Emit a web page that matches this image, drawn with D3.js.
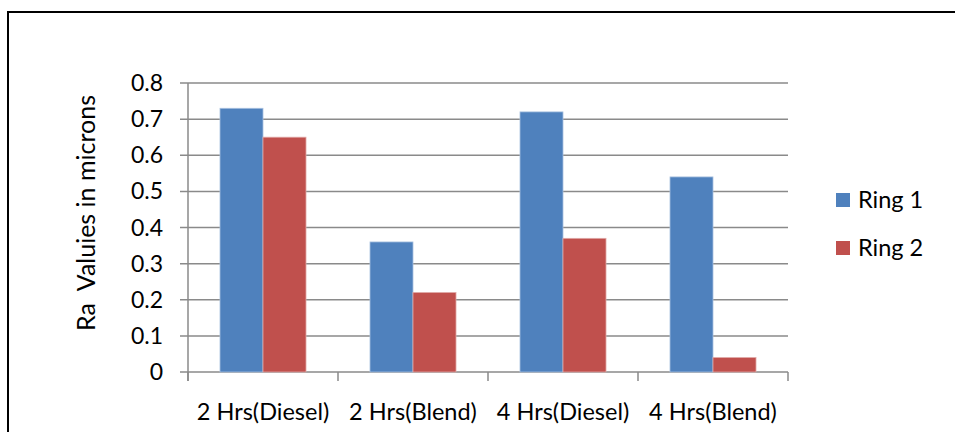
<!DOCTYPE html>
<html>
<head>
<meta charset="utf-8">
<script src="https://cdn.jsdelivr.net/npm/d3@7"></script>
<style>
  body { margin: 0; background: #fff; }
  text { font-family: Lato, "Open Sans", sans-serif; fill: #000; }
</style>
</head>
<body>
<script>
// chart data
var categories = ["2 Hrs(Diesel)", "2 Hrs(Blend)", "4 Hrs(Diesel)", "4 Hrs(Blend)"];
var seriesNames = ["Ring 1", "Ring 2"];
var ring1 = [0.73, 0.36, 0.72, 0.54];
var ring2 = [0.65, 0.22, 0.37, 0.04];
var yTicks = [0, 0.1, 0.2, 0.3, 0.4, 0.5, 0.6, 0.7, 0.8];
var colors = ["#4F81BD", "#C0504D"];

function draw() {
    var w = 955, h = 432;
    var svg = d3.select("body").append("svg")
        .attr("width", w)
        .attr("height", h);

    // outer frame (top and left edges are visible)
    svg.append("path")
        .attr("d", "M8,440 L8,12 L960,12")
        .attr("fill", "none")
        .attr("stroke", "#000")
        .attr("stroke-width", 2);

    var left = 188, right = 788, top = 83, bottom = 372;

    var x = d3.scaleBand().domain(categories).range([left, right]).paddingInner(0).paddingOuter(0);
    var x1 = d3.scaleBand().domain(seriesNames).range([0, x.bandwidth()]).paddingInner(0).paddingOuter(0.744);
    var y = d3.scaleLinear().domain([0, 0.8]).range([bottom, top]);

    // gridlines
    svg.append("g").selectAll("line")
        .data(yTicks)
        .enter().append("line")
        .attr("x1", left - 8).attr("x2", right)
        .attr("y1", function(d) { return y(d); })
        .attr("y2", function(d) { return y(d); })
        .attr("stroke", "#8a8a8a")
        .attr("stroke-width", 1.5);

    // y axis line
    svg.append("line")
        .attr("x1", left).attr("x2", left)
        .attr("y1", top).attr("y2", bottom + 9)
        .attr("stroke", "#8a8a8a").attr("stroke-width", 1.5);

    // category ticks
    var tickXs = categories.map(function(c) { return x(c); }).concat([right]);
    svg.append("g").selectAll("line")
        .data(tickXs)
        .enter().append("line")
        .attr("x1", function(d) { return d; })
        .attr("x2", function(d) { return d; })
        .attr("y1", bottom).attr("y2", bottom + 9)
        .attr("stroke", "#8a8a8a").attr("stroke-width", 1.5);

    // y tick labels
    svg.append("g").selectAll("text")
        .data(yTicks)
        .enter().append("text")
        .attr("x", 163)
        .attr("y", function(d) { return y(d) + 8; })
        .attr("text-anchor", "end")
        .attr("font-size", 23)
        .text(function(d) { return d === 0 ? "0" : d3.format(".1f")(d); });

    // bars
    var series = [ring1, ring2];
    series.forEach(function(vals, si) {
        svg.append("g").selectAll("rect")
            .data(vals)
            .enter().append("rect")
            .attr("x", function(d, i) { return x(categories[i]) + x1(seriesNames[si]); })
            .attr("width", x1.bandwidth())
            .attr("y", function(d) { return y(d); })
            .attr("height", function(d) { return bottom - y(d); })
            .attr("fill", colors[si])
            .attr("stroke", si === 0 ? "#a9c1e0" : "#e0a9a7")
            .attr("stroke-width", 0.8);
    });

    // category labels
    svg.append("g").selectAll("text")
        .data(categories)
        .enter().append("text")
        .attr("x", function(d) { return x(d) + x.bandwidth() / 2; })
        .attr("y", 420)
        .attr("text-anchor", "middle")
        .attr("font-size", 23.5)
        .text(function(d) { return d; });

    // y axis title
    svg.append("text")
        .attr("transform", "translate(95,213) rotate(-90)")
        .attr("text-anchor", "middle")
        .attr("font-size", 25)
        .style("white-space", "pre")
        .text("Ra  Valuies in microns");

    // legend
    var legend = svg.append("g").selectAll("g")
        .data(seriesNames)
        .enter().append("g")
        .attr("transform", function(d, i) { return "translate(836," + (193 + i * 48) + ")"; });
    legend.append("rect")
        .attr("width", 14).attr("height", 14)
        .attr("fill", function(d, i) { return colors[i]; });
    legend.append("text")
        .attr("x", 22).attr("y", 15)
        .attr("font-size", 23.5)
        .text(function(d) { return d; });
}
window.onload = draw;
</script>
</body>
</html>
